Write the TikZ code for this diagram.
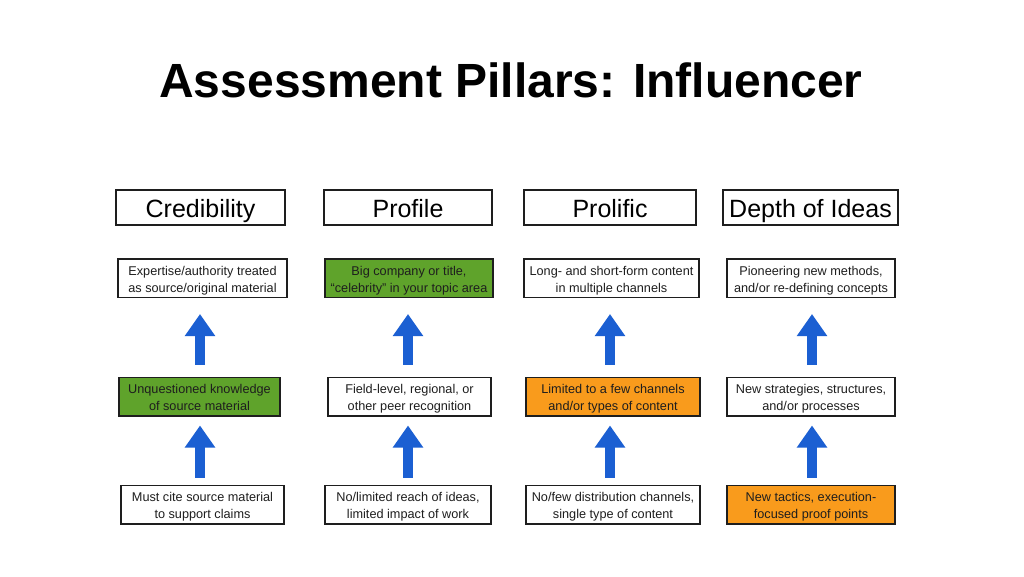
\documentclass[tikz,border=0pt]{standalone}
\usepackage{fontspec}
\setmainfont{Liberation Sans}
\usetikzlibrary{arrows.meta}
\definecolor{ink}{HTML}{1E1E1E}
\definecolor{pgreen}{HTML}{5FA32B}
\definecolor{porange}{HTML}{F99B1C}
\definecolor{pblue}{HTML}{1B5FD2}
\newcommand\myTop{\rule{0pt}{15pt}}
\newcommand\myBot{\rule[-4pt]{0pt}{4pt}}
\newcommand\twolines[2]{\myTop #1\\#2\myBot}
\tikzset{
  hdr/.style={draw=ink, line width=1.5pt, fill=white, inner sep=0pt, text=black,
    font=\fontsize{25}{28}\selectfont, minimum height=35pt,
    text height=24pt, text depth=5pt},
  item/.style={draw=ink, line width=1.5pt, fill=white, inner sep=0pt, text=ink,
    align=center, font=\fontsize{12.7}{17}\selectfont, minimum height=38.5pt},
  good/.style={fill=pgreen},
  mid/.style={fill=porange},
  uparrow/.style={draw=pblue, line width=10pt,
    -{Triangle[width=29pt,length=22pt]}},
}
\begin{document}
\begin{tikzpicture}[x=1pt,y=-1pt]
\useasboundingbox[fill=white] (0,0) rectangle (1024,576);
\node[font=\bfseries\fontsize{48}{52}\selectfont, anchor=base] (title) at (511,97) {Assessment Pillars: Influencer};
% headers
\node[hdr, minimum width=169pt] (h1) at (200.5,207.5) {Credibility};
\node[hdr, minimum width=168pt] (h2) at (408,207.5) {Profile};
\node[hdr, minimum width=172pt] (h3) at (610,207.5) {Prolific};
\node[hdr, minimum width=175pt] (h4) at (810.5,207.5) {Depth of Ideas};
% top row
\node[item, minimum width=169pt] (t1) at (202.5,278) {\twolines{Expertise/authority treated}{as source/original material}};
\node[item, good, minimum width=168pt] (t2) at (409,278) {\twolines{Big company or title,}{``celebrity'' in your topic area}};
\node[item, minimum width=175pt] (t3) at (611.5,278) {\twolines{Long- and short-form content}{in multiple channels}};
\node[item, minimum width=168pt] (t4) at (811,278) {\twolines{Pioneering new methods,}{and/or re-defining concepts}};
% middle row
\node[item, good, minimum width=161pt] (m1) at (199.5,396.5) {\twolines{Unquestioned knowledge}{of source material}};
\node[item, minimum width=163pt] (m2) at (409.5,396.5) {\twolines{Field-level, regional, or}{other peer recognition}};
\node[item, mid, minimum width=174pt] (m3) at (613,396.5) {\twolines{Limited to a few channels}{and/or types of content}};
\node[item, minimum width=168pt] (m4) at (811,396.5) {\twolines{New strategies, structures,}{and/or processes}};
% bottom row
\node[item, minimum width=163pt] (b1) at (202.5,504.5) {\twolines{Must cite source material}{to support claims}};
\node[item, minimum width=166pt] (b2) at (408,504.5) {\twolines{No/limited reach of ideas,}{limited impact of work}};
\node[item, minimum width=174pt] (b3) at (613,504.5) {\twolines{No/few distribution channels,}{single type of content}};
\node[item, mid, minimum width=168pt] (b4) at (811,504.5) {\twolines{New tactics, execution-}{focused proof points}};
% column axes for arrows
\coordinate (c1) at (200,0);
\coordinate (c2) at (408,0);
\coordinate (c3) at (610,0);
\coordinate (c4) at (812,0);
\foreach \i in {1,2,3,4}{
  \draw[uparrow, shorten <=12pt, shorten >=16pt] (c\i |- m\i.north) -- (c\i |- t\i.south);
  \draw[uparrow, shorten <=7pt, shorten >=9pt] (c\i |- b\i.north) -- (c\i |- m\i.south);
}
\end{tikzpicture}
\end{document}
